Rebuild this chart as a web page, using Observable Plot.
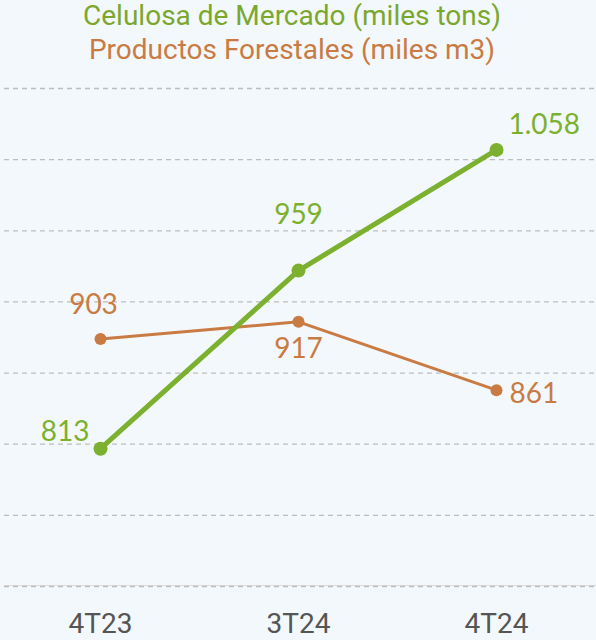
<!DOCTYPE html>
<html>
<head>
<meta charset="utf-8">
<script src="https://cdn.jsdelivr.net/npm/d3@7"></script>
<script src="https://cdn.jsdelivr.net/npm/@observablehq/plot@0.6"></script>
<style>
  html, body { margin: 0; padding: 0; background: #f3f8fc; }
  #wrap { width: 596px; height: 640px; overflow: hidden; background: #f3f8fc; }
  .title { height: 70px; margin-top: -1px; text-align: center;
           font-family: Roboto, sans-serif; font-size: 28px; line-height: 34px; }
  .t1 { color: #7ba82c; margin-left: -12px; }
  .t2 { color: #c97b43; margin-left: -12px; }
  svg { display: block; }
</style>
</head>
<body>
<div id="wrap">
  <div class="title">
    <div class="t1">Celulosa de Mercado (miles tons)</div>
    <div class="t2">Productos Forestales (miles m3)</div>
  </div>
  <div id="chart"></div>
</div>
<script>
const periods = ["4T23", "3T24", "4T24"];
const celulosa = [813, 959, 1058];
const forestales = [903, 917, 861];
const celulosaLabels = ["813", "959", "1.058"];
const forestalesLabels = ["903", "917", "861"];
const gridTicks = [700, 758.33, 816.67, 875, 933.33, 991.67, 1050, 1108.33];

const green = "#7bb12e";
const orange = "#c97b43";

const cel = periods.map((p, i) => ({period: p, value: celulosa[i], label: celulosaLabels[i], i}));
const forr = periods.map((p, i) => ({period: p, value: forestales[i], label: forestalesLabels[i], i}));

const labelFont = {fontFamily: "Lato, sans-serif", fontSize: 28, lineAnchor: "bottom"};

function lab(data, i, color, opts) {
  return Plot.text(data.filter(d => d.i === i), {x: "period", y: "value", text: "label", fill: color, ...labelFont, ...opts});
}

const chart = Plot.plot({
  width: 596,
  height: 571,
  marginTop: 19,
  marginBottom: 54,
  marginLeft: 4,
  marginRight: 0,
  style: {background: "transparent", fontFamily: "Roboto, sans-serif", overflow: "visible"},
  x: {type: "point", domain: periods, range: [100, 496], padding: 0, label: null},
  y: {domain: [700, 1108.33], label: null, axis: null},
  marks: [
    Plot.ruleY([700], {stroke: "#dcdcdc", strokeWidth: 1, dy: -1}),
    Plot.ruleY(gridTicks, {stroke: "#bdbdbd", strokeWidth: 1.3, strokeDasharray: "5,4"}),
    Plot.axisX({tickSize: 0, tickPadding: 0, fontSize: 28, fill: "#555", dy: 27, fontFamily: "Roboto, sans-serif", label: null}),
    Plot.line(forr, {x: "period", y: "value", stroke: orange, strokeWidth: 3}),
    Plot.dot(forr, {x: "period", y: "value", fill: orange, r: 6}),
    Plot.line(cel, {x: "period", y: "value", stroke: green, strokeWidth: 5}),
    Plot.dot(cel, {x: "period", y: "value", fill: green, r: 7}),
    lab(cel, 0, green, {textAnchor: "end", dx: -11, dy: -8}),
    lab(cel, 1, green, {textAnchor: "middle", dx: 0, dy: -47}),
    lab(cel, 2, green, {textAnchor: "start", dx: 12, dy: -16}),
    lab(forr, 0, orange, {textAnchor: "middle", dx: -7, dy: -25}),
    lab(forr, 1, orange, {textAnchor: "middle", dx: 0, dy: 36}),
    lab(forr, 2, orange, {textAnchor: "start", dx: 13, dy: 13})
  ]
});
document.getElementById("chart").appendChild(chart);
</script>
</body>
</html>
